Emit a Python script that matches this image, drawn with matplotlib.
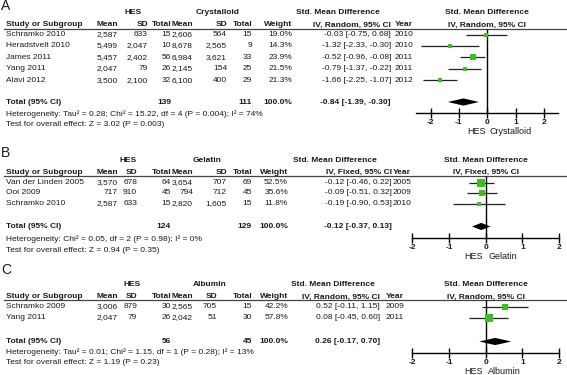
import matplotlib
matplotlib.use("Agg")
import matplotlib.pyplot as plt

W, H = 567, 375
GREEN = "#3fbf1f"
INK = "#1a1a1a"

# A: HES vs crystalloid
a_studies = ["Schramko 2010", "Heradstvelt 2010", "James 2011", "Yang 2011", "Alavi 2012"]
a_hes_mean = [2587, 5499, 5457, 2047, 3500]
a_hes_sd = [633, 2047, 2402, 79, 2100]
a_hes_n = [15, 10, 56, 26, 32]
a_ctl_mean = [2606, 8678, 6984, 2145, 6100]
a_ctl_sd = [564, 2565, 3621, 154, 400]
a_ctl_n = [15, 9, 33, 25, 29]
a_weight = [19.0, 14.3, 23.9, 21.5, 21.3]
a_smd = [-0.03, -1.32, -0.52, -0.79, -1.66]
a_lo = [-0.75, -2.33, -0.96, -1.37, -2.25]
a_hi = [0.68, -0.30, -0.08, -0.22, -1.07]
a_year = [2010, 2010, 2011, 2011, 2012]
a_tot_n = [139, 111]
a_tot_ci = [-0.84, -1.39, -0.30]

# B: HES vs gelatin
b_studies = ["Van der Linden 2005", "Ooi 2009", "Schramko 2010"]
b_hes_mean = [3570, 717, 2587]
b_hes_sd = [678, 910, 633]
b_hes_n = [64, 45, 15]
b_ctl_mean = [3654, 794, 2820]
b_ctl_sd = [707, 712, 1605]
b_ctl_n = [69, 45, 15]
b_weight = [52.5, 35.6, 11.8]
b_smd = [-0.12, -0.09, -0.19]
b_lo = [-0.46, -0.51, -0.90]
b_hi = [0.22, 0.32, 0.53]
b_year = [2005, 2009, 2010]
b_tot_n = [124, 129]
b_tot_ci = [-0.12, -0.37, 0.13]

# C: HES vs albumin
c_studies = ["Schramko 2009", "Yang 2011"]
c_hes_mean = [3006, 2047]
c_hes_sd = [879, 79]
c_hes_n = [30, 26]
c_ctl_mean = [2565, 2042]
c_ctl_sd = [705, 51]
c_ctl_n = [15, 30]
c_weight = [42.2, 57.8]
c_smd = [0.52, 0.08]
c_lo = [-0.11, -0.45]
c_hi = [1.15, 0.60]
c_year = [2009, 2011]
c_tot_n = [56, 45]
c_tot_ci = [0.26, -0.17, 0.70]

ticks = [-2, -1, 0, 1, 2]

panels = [
    dict(label="A", ctl="Crystalloid", method="IV, Random, 95% CI",
         het="Heterogeneity: Tau\u00b2 = 0.28; Chi\u00b2 = 15.22, df = 4 (P = 0.004); I\u00b2 = 74%",
         test="Test for overall effect: Z = 3.02 (P = 0.003)",
         cols=(a_studies, a_hes_mean, a_hes_sd, a_hes_n, a_ctl_mean, a_ctl_sd, a_ctl_n,
               a_weight, a_smd, a_lo, a_hi, a_year), tot_n=a_tot_n, tot_ci=a_tot_ci,
         # layout in pixels
         ylab=6, ygrp=13, yhdr=25, yline=28.5, yrow=34.5, step=11.4, ytot=102, yhet=114.5, ytest=125,
         yaxis=113, yfav=132,
         xr=[118, 148, 171, 193, 227, 252, 292], xci=391, xyear=395, xgrp=(133, 218), xsmd=338,
         fx=(416.3, 558.3), lim=2.5),
    dict(label="B", ctl="Gelatin", method="IV, Fixed, 95% CI",
         het="Heterogeneity: Chi\u00b2 = 0.05, df = 2 (P = 0.98); I\u00b2 = 0%",
         test="Test for overall effect: Z = 0.94 (P = 0.35)",
         cols=(b_studies, b_hes_mean, b_hes_sd, b_hes_n, b_ctl_mean, b_ctl_sd, b_ctl_n,
               b_weight, b_smd, b_lo, b_hi, b_year), tot_n=b_tot_n, tot_ci=b_tot_ci,
         ylab=153, ygrp=161, yhdr=172, yline=175.5, yrow=182.5, step=10.5, ytot=226.5, yhet=239, ytest=250.5,
         yaxis=237.7, yfav=256.7,
         xr=[118, 137, 171, 193, 227, 252, 288], xci=391.7, xyear=393, xgrp=(128, 207), xsmd=334.7,
         fx=(412.3, 559), lim=2),
    dict(label="C", ctl="Albumin", method="IV, Random, 95% CI",
         het="Heterogeneity: Tau\u00b2 = 0.01; Chi\u00b2 = 1.15, df = 1 (P = 0.28); I\u00b2 = 13%",
         test="Test for overall effect: Z = 1.19 (P = 0.23)",
         cols=(c_studies, c_hes_mean, c_hes_sd, c_hes_n, c_ctl_mean, c_ctl_sd, c_ctl_n,
               c_weight, c_smd, c_lo, c_hi, c_year), tot_n=c_tot_n, tot_ci=c_tot_ci,
         ylab=270, ygrp=285, yhdr=297, yline=300, yrow=306.5, step=11.3, ytot=341.5, yhet=352, ytest=362,
         yaxis=352.7, yfav=372,
         xr=[118, 137, 171, 193, 217, 252, 288], xci=380, xyear=386, xgrp=(132, 210), xsmd=333,
         fx=(412.3, 559), lim=2),
]

plt.rcParams['font.family'] = ['Liberation Sans', 'DejaVu Sans']
fig = plt.figure(figsize=(W / 100, H / 100), dpi=100)
bg = fig.add_axes([0, 0, 1, 1])
bg.set_xlim(0, W)
bg.set_ylim(H, 0)
bg.axis('off')


def txt(x, y, s, ha='left', bold=False, size=6):
    bg.text(x, y, s, ha=ha, va='center', fontsize=size, color=INK,
            fontweight='bold' if bold else 'normal')


def ci_str(e, lo, hi):
    return f"{e:.2f} [{lo:.2f}, {hi:.2f}]"


for p in panels:
    studies, hm, hsd, hn, cm, csd, cn, wt, smd, lo, hi, yr = p['cols']
    xr = p['xr']
    txt(1, p['ylab'], p['label'], size=10)
    txt(p['xgrp'][0], p['ygrp'], "HES", ha='center', bold=True)
    txt(p['xgrp'][1], p['ygrp'], p['ctl'], ha='center', bold=True)
    txt(p['xsmd'], p['ygrp'], "Std. Mean Difference", ha='center', bold=True)
    for x, s in zip(xr, ["Mean", "SD", "Total", "Mean", "SD", "Total", "Weight"]):
        txt(x, p['yhdr'], s, ha='right', bold=True)
    txt(6, p['yhdr'], "Study or Subgroup", bold=True)
    txt(p['xci'], p['yhdr'], p['method'], ha='right', bold=True)
    txt(p['xyear'], p['yhdr'], "Year", bold=True)
    bg.plot([4, W], [p['yline'], p['yline']], color="#444444", lw=0.9)

    for i, name in enumerate(studies):
        y = p['yrow'] + i * p['step']
        txt(6, y, name)
        vals = [f"{hm[i]:,}", f"{hsd[i]:,}", f"{hn[i]}", f"{cm[i]:,}", f"{csd[i]:,}",
                f"{cn[i]}", f"{wt[i]:.1f}%"]
        for x, s in zip(xr, vals):
            txt(x, y, s, ha='right')
        txt(p['xci'], y, ci_str(smd[i], lo[i], hi[i]), ha='right')
        txt(p['xyear'], y, str(yr[i]))

    txt(6, p['ytot'], "Total (95% CI)", bold=True)
    txt(xr[2], p['ytot'], str(p['tot_n'][0]), ha='right', bold=True)
    txt(xr[5], p['ytot'], str(p['tot_n'][1]), ha='right', bold=True)
    txt(xr[6], p['ytot'], "100.0%", ha='right', bold=True)
    txt(p['xci'], p['ytot'], ci_str(*p['tot_ci']), ha='right', bold=True)
    txt(6, p['yhet'], p['het'])
    txt(6, p['ytest'], p['test'])

    # forest plot
    x0, x1 = p['fx']
    ax = fig.add_axes([x0 / W, 0, (x1 - x0) / W, 1])
    ax.set_xlim(-p['lim'], p['lim'])
    ax.set_ylim(H, 0)
    ax.patch.set_visible(False)
    for s in ['top', 'left', 'right']:
        ax.spines[s].set_visible(False)
    ax.spines['bottom'].set_position(('data', p['yaxis']))
    ax.spines['bottom'].set_linewidth(1.0)
    ax.set_yticks([])
    ax.set_xticks(ticks)
    ax.set_xticklabels([str(t) for t in ticks], fontsize=6, fontweight='bold', color=INK)
    ax.tick_params(axis='x', direction='inout', length=7, width=1.0, pad=1)
    ax.vlines(0, p['yline'], p['yaxis'], color='k', lw=1.0)

    ax.text(0, p['ygrp'], "Std. Mean Difference", ha='center', va='center', fontsize=6,
            fontweight='bold', color=INK)
    ax.text(0, p['yhdr'], p['method'], ha='center', va='center', fontsize=6,
            fontweight='bold', color=INK)

    for i in range(len(studies)):
        y = p['yrow'] + i * p['step']
        ax.hlines(y, lo[i], hi[i], color='#222222', lw=0.9)
        ax.plot(smd[i], y, 's', ms=(wt[i] ** 0.5) * 0.75, color=GREEN, mec=GREEN, mew=0)
    e, l, h = p['tot_ci']
    yt = p['ytot']
    ax.fill([l, e, h, e], [yt, yt - 3.6, yt, yt + 3.6], color='k', lw=0)

    ax.text(-0.07, p['yfav'], "HES", ha='right', va='center', fontsize=6.5, color=INK)
    ax.text(0.07, p['yfav'], p['ctl'], ha='left', va='center', fontsize=6.5, color=INK)

fig.savefig("out.png", dpi=100)
